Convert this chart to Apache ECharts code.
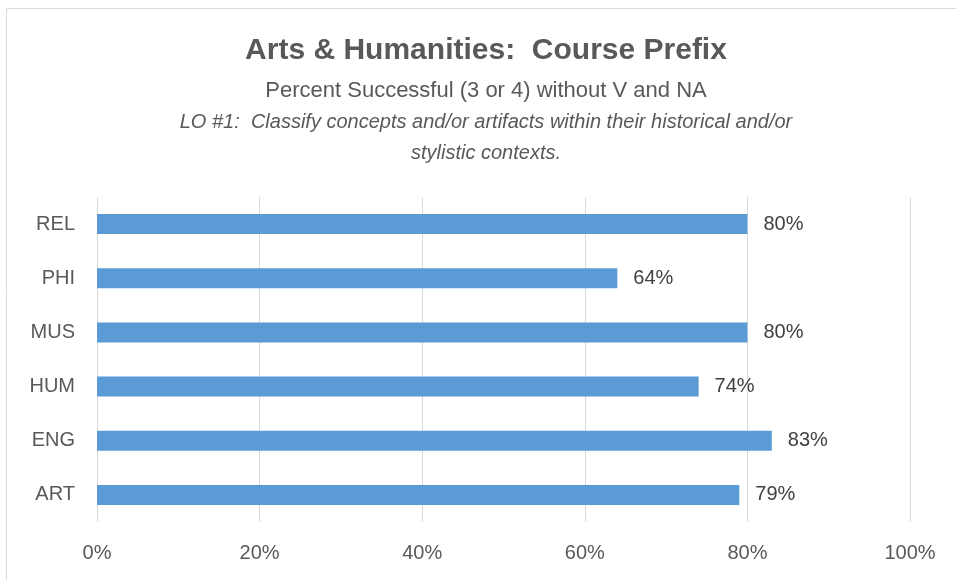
<!DOCTYPE html>
<html>
<head>
<meta charset="utf-8">
<style>
  html, body { margin: 0; padding: 0; background: #fff; }
  #chart { width: 956px; height: 580px; }
</style>
<script src="https://cdn.jsdelivr.net/npm/echarts@6/dist/echarts.min.js"></script>
</head>
<body>
<div id="chart"></div>
<script>
// data, bottom to top as in the picture
const categories = ['ART', 'ENG', 'HUM', 'MUS', 'PHI', 'REL'];
const successPct = [79, 83, 74, 80, 64, 80];
const tickValues = [0, 20, 40, 60, 80, 100];

const font = '"Liberation Sans", Arial, sans-serif';
const chart = echarts.init(document.getElementById('chart'));

// centred text line helper (centre of the frame is about x=486)
function line(text, y, f) {
  return {
    type: 'text', x: 486, y: y, silent: true,
    style: { text: text, font: f, fill: '#595959', align: 'center', verticalAlign: 'middle' }
  };
}

chart.setOption({
  animation: false,
  textStyle: { fontFamily: font },
  graphic: [
    {
      type: 'rect',
      shape: { x: 6.5, y: 8.5, width: 980, height: 600 },
      style: { fill: 'none', stroke: '#d9d9d9', lineWidth: 1 },
      silent: true
    },
    line('Arts & Humanities:  Course Prefix', 51, 'bold 30px ' + font),
    line('Percent Successful (3 or 4) without V and NA', 91, '22px ' + font),
    line('LO #1:  Classify concepts and/or artifacts within their historical and/or', 122, 'italic 20px ' + font),
    line('stylistic contexts.', 153, 'italic 20px ' + font)
  ],
  grid: { left: 97, right: 46, top: 197, bottom: 58 },
  xAxis: {
    type: 'value',
    min: 0, max: 100, interval: 20,
    axisLine: { show: false },
    axisTick: { show: false },
    splitLine: { lineStyle: { color: '#d9d9d9', width: 1 } },
    axisLabel: {
      color: '#595959', fontSize: 20, margin: 21,
      formatter: v => tickValues.includes(v) ? v + '%' : ''
    }
  },
  yAxis: {
    type: 'category',
    data: categories,
    axisLine: { show: false },
    axisTick: { show: false },
    axisLabel: { color: '#595959', fontSize: 20, margin: 22 }
  },
  series: [{
    type: 'bar',
    data: successPct,
    barWidth: 20,
    itemStyle: { color: '#5b9bd5' },
    label: {
      show: true, position: 'right', distance: 16,
      color: '#404040', fontSize: 20,
      formatter: p => p.value + '%'
    }
  }]
});
</script>
</body>
</html>
